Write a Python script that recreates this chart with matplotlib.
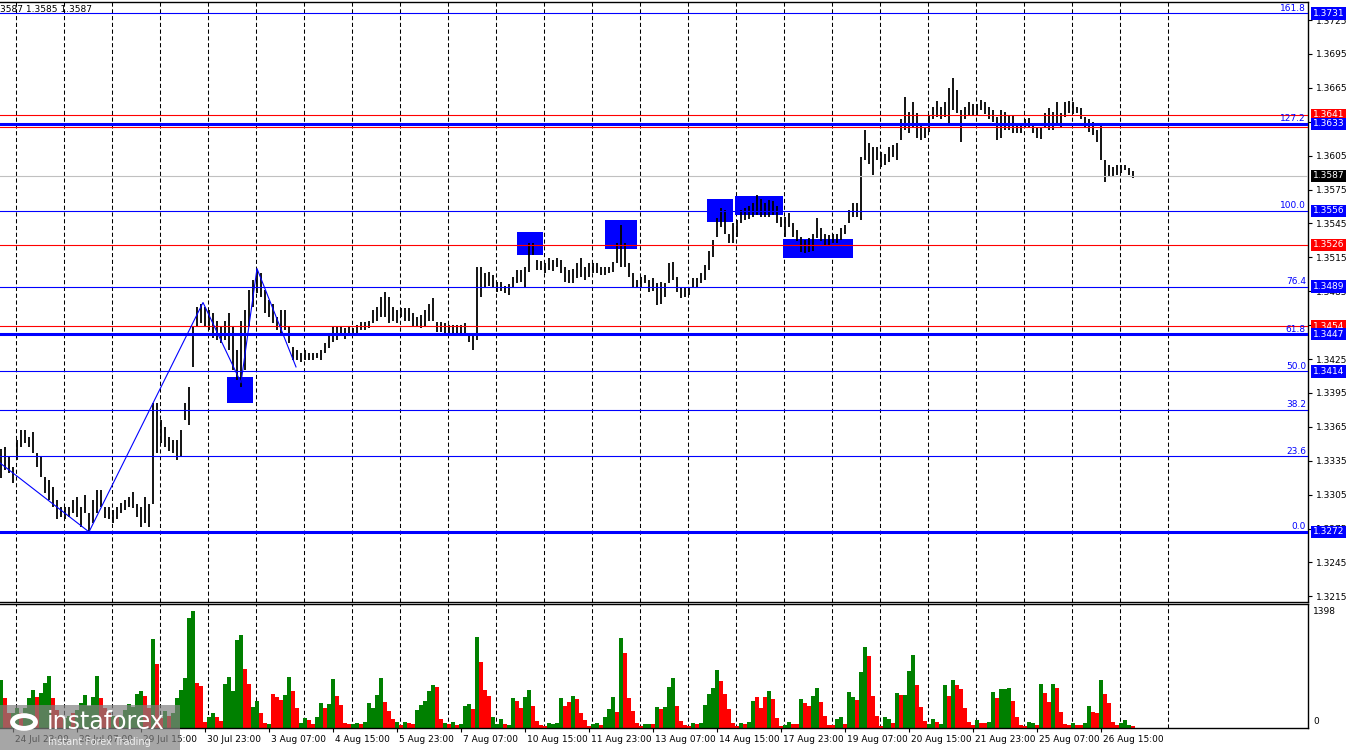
import numpy as np
import matplotlib
matplotlib.use("Agg")
import matplotlib.pyplot as plt
import matplotlib.transforms as mtransforms
from matplotlib.patches import Rectangle, Circle

# 2-hour bars, high / low in pips above 1.3000
bar_high = [345,347,338,329,353,362,362,356,360,342,
            338,321,318,312,300,294,294,294,300,303,
            294,305,289,300,309,309,294,294,291,294,
            298,300,303,307,297,294,303,297,386,386,
            371,365,356,353,353,362,386,400,453,471,
            474,471,468,466,459,453,459,466,453,433,
            459,468,486,495,504,501,486,477,474,462,
            468,468,453,436,433,430,433,430,430,430,
            433,439,445,453,453,453,452,453,452,455,
            458,458,459,468,471,480,484,480,471,468,
            470,470,470,466,462,464,468,474,479,458,
            458,457,455,455,455,455,457,448,445,506,
            506,501,502,499,493,493,490,491,498,504,
            504,506,528,528,513,512,510,514,513,514,
            513,506,504,505,510,514,506,510,510,510,
            506,506,506,511,528,544,528,510,501,495,
            498,499,495,497,492,493,492,510,511,498,
            488,488,489,497,497,501,508,521,530,550,
            559,557,536,545,548,557,559,560,563,570,
            567,563,566,565,560,551,551,554,545,539,
            533,530,532,536,550,541,536,535,536,536,
            541,544,557,563,563,604,628,616,613,613,
            608,606,613,614,616,637,657,644,652,643,
            634,630,641,648,653,648,652,665,674,663,
            645,648,652,651,651,654,652,648,645,639,
            645,644,641,641,634,634,637,638,634,629,
            629,643,647,644,652,643,652,653,652,648,
            647,639,637,635,628,634,601,597,595,597,
            597,597,594,591]
bar_low = [320,327,324,315,336,347,351,347,342,329,
           321,306,300,294,283,285,283,285,289,285,
           276,289,272,280,289,294,284,283,280,283,
           289,291,294,293,285,276,280,276,297,342,
           351,347,344,342,336,338,371,367,418,453,
           457,453,451,444,442,439,442,433,415,406,
           400,415,453,471,483,480,466,462,457,451,
           448,451,439,424,424,422,424,424,424,426,
           424,430,435,440,442,445,443,445,447,448,
           451,451,452,457,459,462,462,457,459,457,
           462,459,459,453,453,452,453,459,459,449,
           449,448,448,447,448,448,445,440,433,442,
           480,489,490,489,484,485,483,482,489,492,
           493,489,502,517,504,504,501,504,503,506,
           501,493,492,492,497,498,495,498,501,501,
           499,499,501,502,510,506,506,498,488,488,
           489,492,484,485,473,474,480,492,495,484,
           479,480,482,488,488,492,495,504,515,533,
           542,536,528,528,533,545,548,549,551,552,
           551,551,551,552,545,542,533,542,533,529,
           520,519,520,521,532,529,526,525,528,528,
           530,536,545,551,551,548,601,598,588,601,
           595,597,599,604,601,619,628,625,630,621,
           619,621,626,637,639,637,639,634,645,643,
           617,637,641,640,640,645,642,637,635,619,
           621,628,628,625,625,625,629,630,625,621,
           620,630,628,628,634,630,639,643,642,643,
           637,629,626,623,617,601,582,586,586,588,
           590,592,588,585]

volume = [578,362,181,181,241,181,241,362,458,374,
          422,542,627,362,217,145,121,145,181,217,
          301,398,265,374,627,362,241,181,145,145,
          145,217,289,253,410,446,386,241,1060,759,
          121,205,145,181,362,458,603,1313,1398,542,
          506,72,133,181,133,84,530,615,446,1048,
          1109,711,530,253,325,181,60,48,410,374,
          337,398,615,446,241,60,121,96,48,133,
          301,241,289,590,386,277,60,48,48,60,
          48,72,301,241,398,603,313,205,108,72,
          36,72,60,48,217,277,325,446,518,494,
          108,60,48,72,36,48,265,289,229,1085,
          783,458,386,133,48,108,48,36,362,325,
          241,374,458,265,84,36,24,60,48,60,
          362,265,313,386,349,181,96,24,48,60,
          36,133,229,374,193,1072,892,362,205,60,
          24,48,48,48,253,229,253,494,603,265,
          84,36,24,60,48,60,277,410,482,699,
          566,410,229,60,24,60,48,72,325,374,
          241,374,446,349,121,24,36,72,48,48,
          349,301,265,386,482,313,145,36,36,108,
          133,48,434,374,337,675,964,856,386,145,
          24,133,108,60,422,398,398,687,868,518,
          253,84,48,108,72,48,518,386,578,518,
          470,241,72,36,96,60,60,72,434,362,
          470,470,482,325,133,36,24,72,60,36,
          530,422,313,530,482,193,48,36,60,36,
          36,60,265,193,181,578,410,301,72,36,
          60,96,36,24]
# g = up volume bar, r = down volume bar
vol_dir = ("grrggrgggr" "gggrrrggrg" "gggggrrrgr" "ggggggrrgr" "rgrggggggr"
           "rrggrrgggg" "grrggrrgrr" "rggrrggrrg" "grggrrrrgg" "rgggggrrrg"
           "rgrrgggggr" "rgrgrgggrg" "rrrgggrggr" "rggrrrrggg" "grrgrrrrgg"
           "rgggrgrrrr" "rggrgrgggr" "rrrgrggggg" "rrrrrgrggr" "rrgrrrggrr"
           "grrggrrrrg" "grggrggrrr" "rggrgrgggr" "rrggrggrgr" "rrrrgrrggr"
           "gggrrrrggr" "grrgrrrrgr" "rggrrgrrrr" "gggr")

date_labels = ["24 Jul 23:00", "28 Jul 07:00", "29 Jul 15:00", "30 Jul 23:00",
               "3 Aug 07:00", "4 Aug 15:00", "5 Aug 23:00", "7 Aug 07:00",
               "10 Aug 15:00", "11 Aug 23:00", "13 Aug 07:00", "14 Aug 15:00",
               "17 Aug 23:00", "19 Aug 07:00", "20 Aug 15:00", "21 Aug 23:00",
               "25 Aug 07:00", "26 Aug 15:00"]

fib_names = ["0.0", "23.6", "38.2", "50.0", "61.8", "76.4", "100.0", "127.2", "161.8"]
fib_prices = [1.3272, 1.3339, 1.3380, 1.3414, 1.3447, 1.3489, 1.3556, 1.3633, 1.3731]
fib_thick = ["0.0", "61.8", "127.2"]
red_levels = [1.3641, 1.3630, 1.3526, 1.3454]
last_price = 1.3587

price_tags = [(1.3731, "blue"), (1.3641, "red"), (1.3633, "blue"), (1.3587, "black"),
              (1.3556, "blue"), (1.3526, "red"), (1.3489, "blue"), (1.3454, "red"),
              (1.3447, "blue"), (1.3414, "blue"), (1.3272, "blue")]

# blue zones: bar from, bar to, price low, price high
box_x0 = [56.5, 129.0, 151.0, 176.5, 183.5, 195.5]
box_x1 = [63.0, 135.5, 159.0, 183.0, 195.5, 213.0]
box_lo = [1.3386, 1.3517, 1.3522, 1.3546, 1.3552, 1.3514]
box_hi = [1.3409, 1.3537, 1.3548, 1.3567, 1.3569, 1.3531]

# zigzag swing points
zz_x = [-0.25, 22, 50.5, 60, 64, 73.75]
zz_p = [1.3333, 1.3272, 1.3475, 1.3404, 1.3505, 1.3418]

hi = 1.3 + np.array(bar_high) / 10000.0
lo = 1.3 + np.array(bar_low) / 10000.0
idx = np.arange(len(hi))
vcol = ["#008000" if c == "g" else "#ff0000" for c in vol_dir]

W, H = 1350, 750
fig = plt.figure(figsize=(13.5, 7.5), dpi=100)
fig.patch.set_facecolor("white")
ax = fig.add_axes([0, 1 - 602 / H, 1308 / W, 600 / H])
ax2 = fig.add_axes([0, 1 - 728 / H, 1308 / W, 124 / H])

xl = (-0.25, 326.75)
ax.set_xlim(*xl)
ax.set_ylim(1.320996, 1.374093)
ax2.set_xlim(*xl)
ax2.set_ylim(0, 1482)

for a in (ax, ax2):
    a.spines["left"].set_visible(False)
    for s in ("top", "bottom", "right"):
        a.spines[s].set_linewidth(1.0)
        a.spines[s].set_color("black")
    # daily separators
    for k in range(25):
        a.axvline(3.675 + 12 * k, color="black", lw=0.75, ls=(0, (4, 2.5)), zorder=0)

# zones behind the bars
for x0, x1, p0, p1 in zip(box_x0, box_x1, box_lo, box_hi):
    ax.add_patch(Rectangle((x0, p0), x1 - x0, p1 - p0, facecolor="#0000ff",
                           edgecolor="none", zorder=1))

ax.vlines(idx, lo, hi, color="black", lw=1.3, zorder=2)

ax.axhline(last_price, color="#c0c0c0", lw=0.8, zorder=3)
for p in red_levels:
    ax.axhline(p, color="#ff0000", lw=0.8, zorder=3)
for name, p in zip(fib_names, fib_prices):
    ax.axhline(p, color="#0000ff", lw=2.2 if name in fib_thick else 0.8, zorder=4)
    ax.text(1306 / W, p + 0.00022, name, color="#0000ff", fontsize=6.5,
            ha="right", va="baseline",
            transform=mtransforms.blended_transform_factory(fig.transFigure, ax.transData))

ax.plot(zz_x, zz_p, color="#0000ff", lw=0.8, zorder=5)

ax.set_xticks([])
ax.yaxis.set_ticks_position("right")
ticks = np.arange(1.3215, 1.3726, 0.003)
ax.set_yticks(ticks)
ax.set_yticklabels(["%.4f" % t for t in ticks])
ax.tick_params(axis="y", direction="out", length=3, width=0.8, labelsize=6.5, pad=3)

tr_tag = mtransforms.blended_transform_factory(fig.transFigure, ax.transData)
for p, c in price_tags:
    ax.text(1313 / W, p, "%.4f" % p, color="white", fontsize=6.5, ha="left",
            va="center", transform=tr_tag, clip_on=False, zorder=10,
            bbox=dict(boxstyle="square,pad=0.2", fc=c, ec="none"))

fig.text(0, 1 - 9 / H, "3587 1.3585 1.3587", fontsize=6.5, color="black",
         ha="left", va="center")

# volume panel
ax2.bar(idx, volume, width=0.85, color=vcol, zorder=2)
ax2.set_yticks([])
pos = [3 + 16 * k for k in range(len(date_labels))]
ax2.set_xticks(pos)
ax2.set_xticklabels([])
ax2.tick_params(axis="x", direction="out", length=3, width=0.8)
tr_x = mtransforms.blended_transform_factory(ax2.transData, fig.transFigure)
for p, lab in zip(pos, date_labels):
    ax2.text(p + 0.4, 1 - 739 / H, lab, fontsize=6.5, ha="left", va="center",
             transform=tr_x, clip_on=False)
fig.text(1313 / W, 1 - 612 / H, "1398", fontsize=6.5, ha="left", va="center")
fig.text(1313 / W, 1 - 722 / H, "0", fontsize=6.5, ha="left", va="center")

# watermark
fig.patches.append(Rectangle((0, 0), 180 / W, 45 / H, transform=fig.transFigure,
                             facecolor="#808080", alpha=0.7, edgecolor="none", zorder=20))
fig.patches.append(Circle((24 / W, 1 - 722 / H), 0.0085, transform=fig.transFigure,
                          facecolor="none", edgecolor="white", lw=3.5, zorder=21))
fig.text(47 / W, 1 - 722 / H, "instaforex", fontsize=17, color="white",
         ha="left", va="center", zorder=22)
fig.text(48 / W, 1 - 742 / H, "Instant Forex Trading", fontsize=7, color="#eeeeee",
         ha="left", va="center", zorder=22)

fig.savefig("out.png", dpi=100)
